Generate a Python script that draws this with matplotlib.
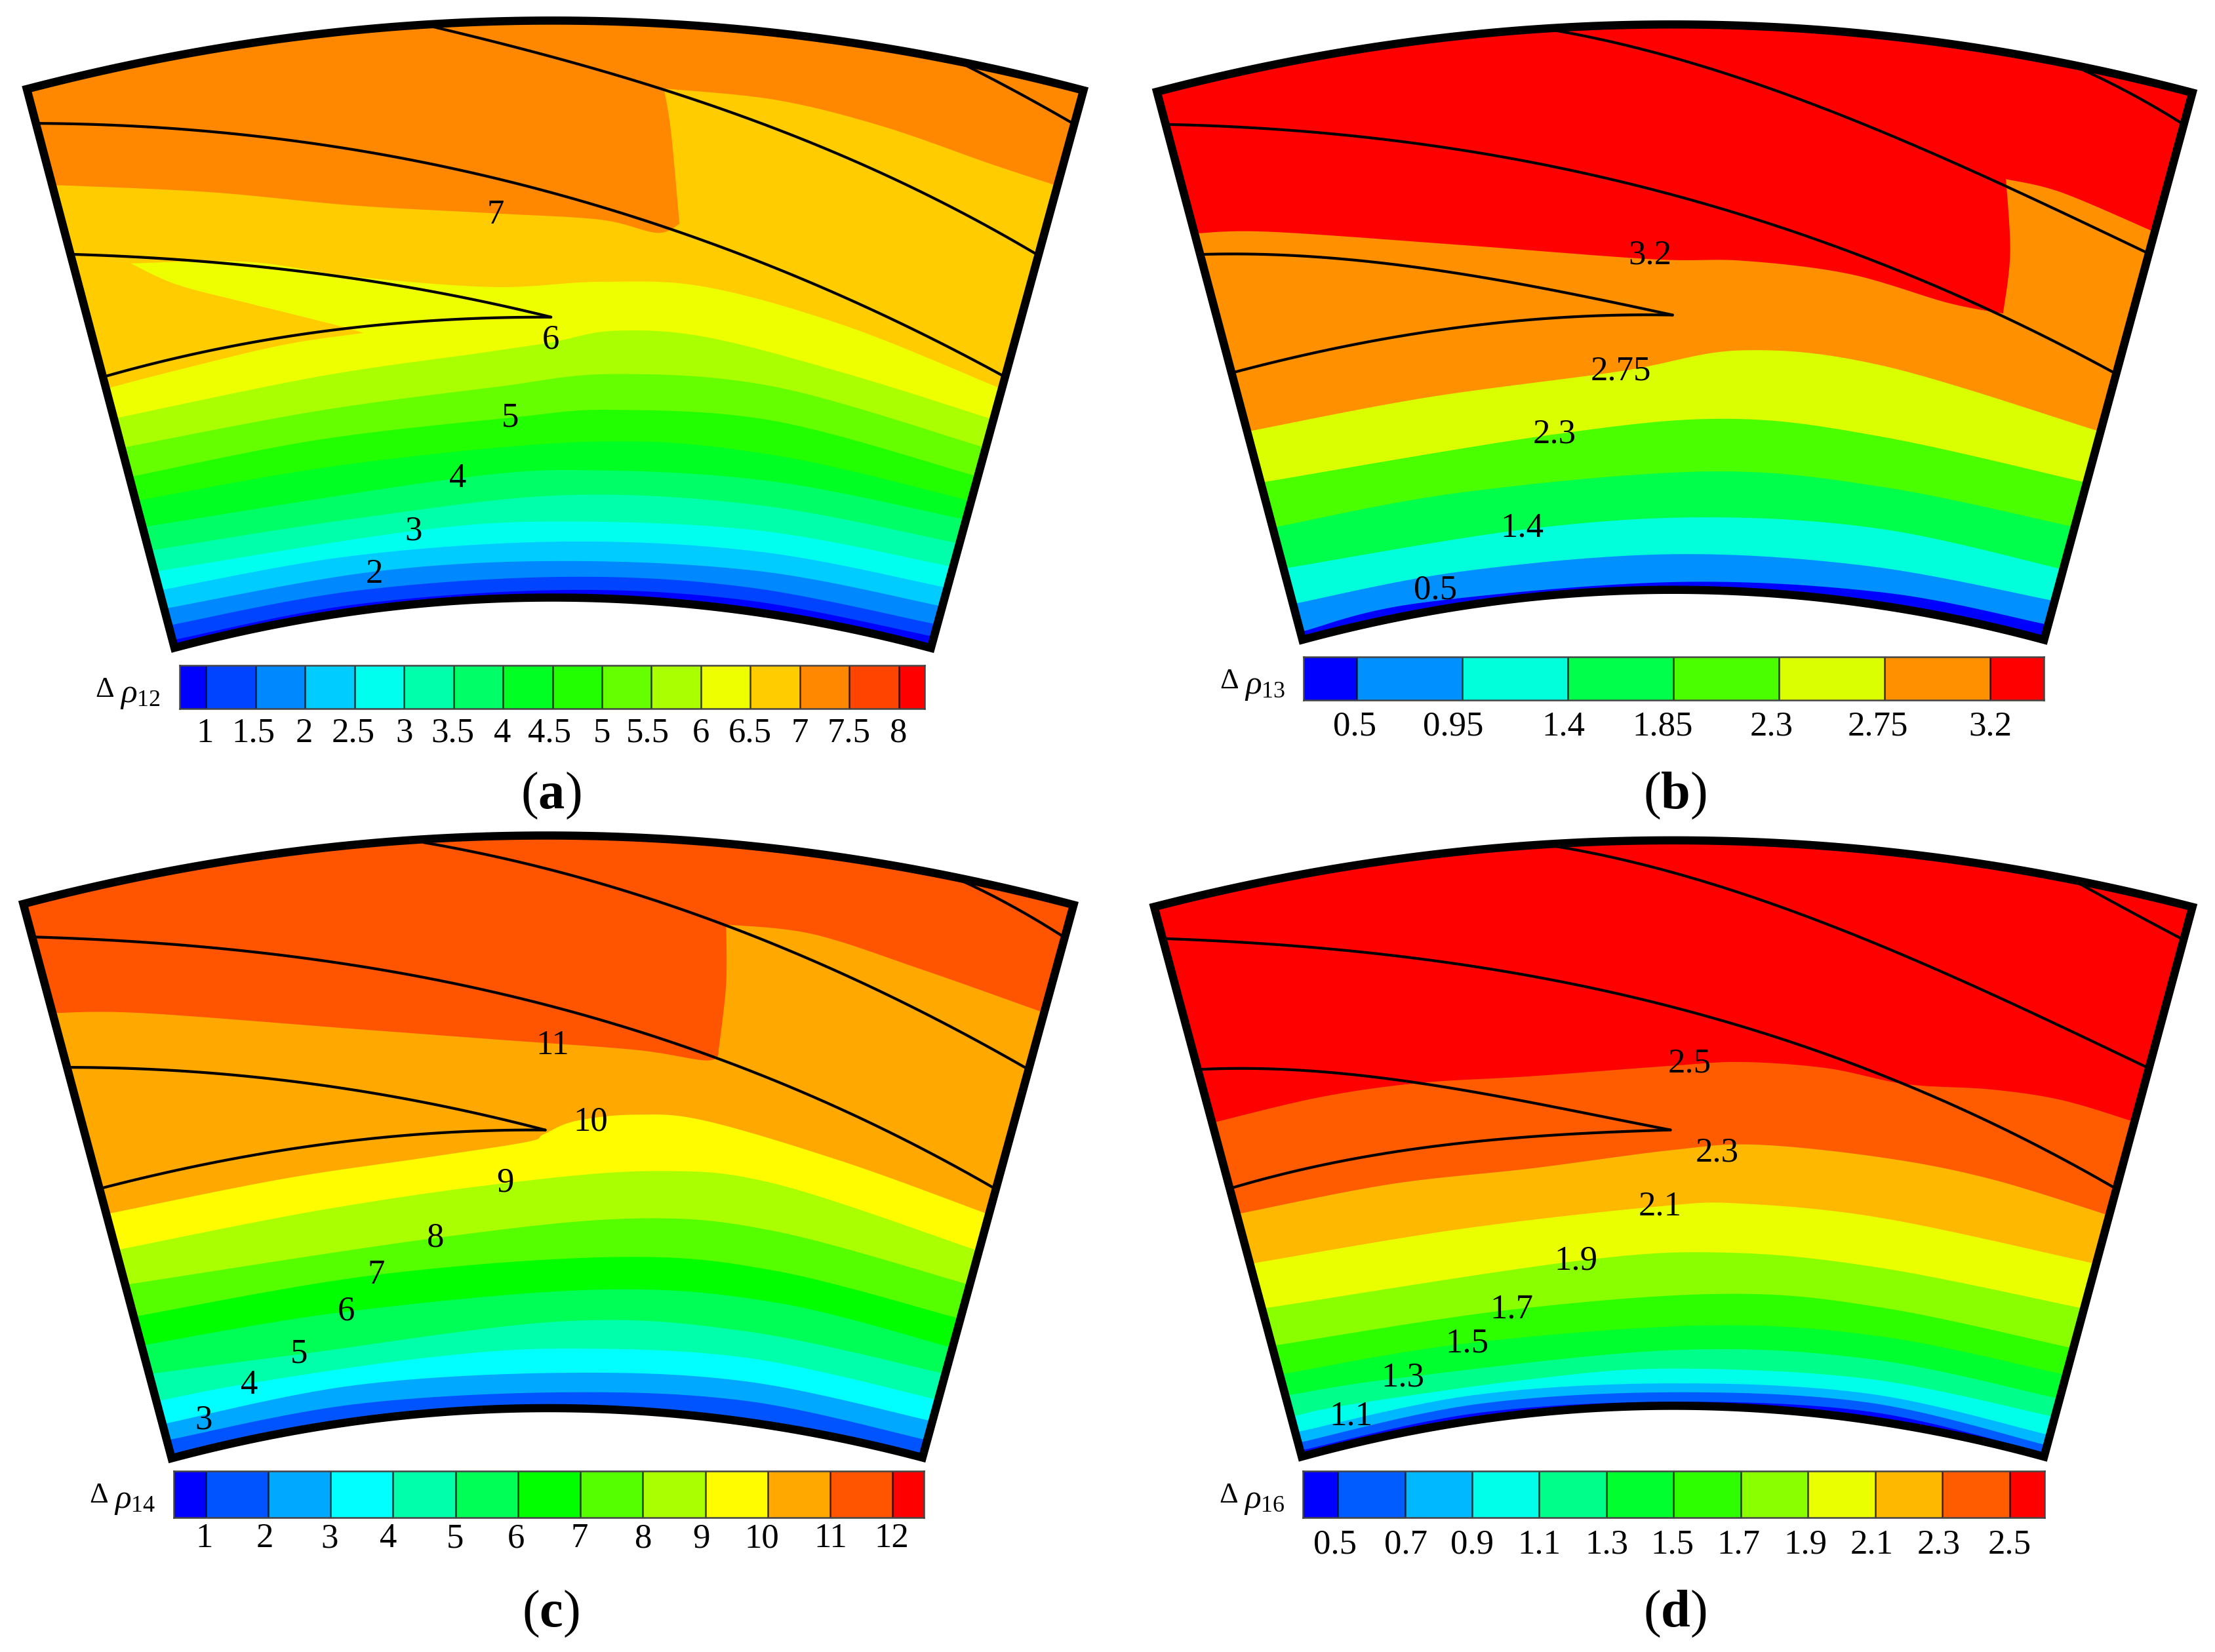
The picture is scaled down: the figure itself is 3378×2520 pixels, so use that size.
import numpy as np
import matplotlib
matplotlib.use('Agg')
import matplotlib.pyplot as plt
from matplotlib.colors import LinearSegmentedColormap
from matplotlib.patches import Polygon

plt.rcParams['font.family'] = ['Liberation Serif', 'DejaVu Serif']
plt.rcParams['mathtext.fontset'] = 'custom'
plt.rcParams['mathtext.rm'] = 'Liberation Serif'
plt.rcParams['mathtext.it'] = 'Liberation Serif:italic'
plt.rcParams['mathtext.bf'] = 'Liberation Serif:bold'

# curves below are read off the picture, one quadrant = 1568 x 1568 units
# a point written twice in a contour is a sharp corner
a_outer = [(38, 172), (300, 88), (610, 48), (780, 40), (1000, 50), (1364, 120), (1534, 170)]
a_inner = [(247, 1230), (500, 1160), (780, 1135), (1060, 1160), (1318, 1230)]
a_blades = [
    [(610, 50), (760, 100), (940, 170), (1180, 290), (1330, 380), (1466, 482)],
    [(55, 234), (200, 240), (400, 265), (600, 310), (780, 365), (960, 435), (1180, 560), (1420, 712)],
    [(103, 483), (250, 492), (420, 515), (600, 550), (780, 602)],
    [(150, 714), (300, 665), (450, 630), (600, 610), (780, 602)],
    [(1364, 122), (1440, 175), (1516, 232)],
]
a_contours = [
    [(245, 1215), (500, 1148), (800, 1120), (1060, 1140), (1320, 1208)],
    [(240, 1187), (500, 1122), (800, 1095), (1060, 1115), (1325, 1185)],
    [(235, 1155), (530, 1085), (800, 1065), (1080, 1085), (1330, 1150)],
    [(228, 1120), (500, 1055), (800, 1028), (1080, 1048), (1338, 1115)],
    [(220, 1085), (585, 1008), (800, 990), (1080, 1008), (1345, 1075)],
    [(213, 1045), (500, 985), (800, 940), (1080, 960), (1352, 1030)],
    [(205, 1000), (648, 908), (850, 893), (1100, 915), (1362, 985)],
    [(195, 950), (500, 880), (850, 838), (1100, 865), (1372, 950)],
    [(185, 905), (450, 835), (722, 793), (870, 778), (1100, 800), (1385, 905)],
    [(173, 850), (450, 780), (700, 735), (870, 710), (1100, 735), (1395, 850)],
    [(160, 795), (450, 715), (680, 670), (780, 650), (870, 628), (1000, 640), (1200, 710), (1403, 795)],
    [(150, 738), (250, 703), (400, 655), (515, 632), (515, 632), (470, 615), (350, 575), (250, 540), (185, 500),
     (185, 500), (350, 497), (500, 525), (700, 545), (850, 535), (1000, 545), (1200, 620), (1412, 735)],
    [(70, 352), (110, 353), (300, 365), (500, 390), (700, 405), (850, 417), (930, 442), (962, 425), (962, 425),
     (950, 250), (940, 168), (940, 168), (1100, 190), (1250, 240), (1400, 310), (1495, 352)],
]
a_colors_n = 16
a_first = 0
a_edges = [0.73, 1, 1.5, 2, 2.5, 3, 3.5, 4, 4.5, 5, 5.5, 6, 6.5, 7, 7.5, 8, 8.26]
a_ticks = ['1', '1.5', '2', '2.5', '3', '3.5', '4', '4.5', '5', '5.5', '6', '6.5', '7', '7.5', '8']
a_shift = [-2, -3, -1, -2, 0, -1, -1, -4, 0, -5, 0, -1, 0, -1, -1]
a_labels = [('2', 530, 1090), ('3', 585, 1008), ('4', 648, 908), ('5', 722, 793), ('6', 780, 645), ('7', 702, 408)]

b_outer = [(70, 176), (350, 90), (635, 58), (800, 45), (1000, 55), (1368, 125), (1536, 175)]
b_inner = [(276, 1215), (520, 1145), (800, 1122), (1080, 1145), (1326, 1215)]
b_blades = [
    [(635, 58), (760, 95), (900, 150), (1050, 225), (1250, 340), (1472, 480)],
    [(85, 237), (200, 240), (400, 268), (600, 310), (800, 365), (1000, 455), (1200, 560), (1425, 707)],
    [(133, 483), (300, 488), (450, 510), (620, 548), (800, 598)],
    [(178, 707), (300, 668), (450, 630), (620, 605), (800, 598)],
    [(1368, 125), (1445, 175), (1522, 235)],
]
b_contours = [
    [(278, 1198), (440, 1145), (800, 1105), (1100, 1125), (1328, 1185)],
    [(268, 1145), (500, 1085), (800, 1052), (1080, 1075), (1338, 1140)],
    [(255, 1078), (590, 1005), (850, 982), (1100, 1005), (1350, 1080)],
    [(240, 1000), (500, 935), (850, 895), (1100, 925), (1367, 1000)],
    [(222, 915), (630, 825), (880, 795), (1100, 830), (1382, 915)],
    [(203, 818), (450, 755), (725, 705), (900, 665), (1100, 695), (1402, 818)],
    [(125, 443), (230, 440), (500, 465), (770, 492), (900, 495), (1050, 520), (1190, 575), (1268, 595), (1268, 595),
     (1278, 480), (1272, 340), (1272, 340), (1350, 365), (1478, 438)],
]
b_colors_n = 8
b_first = 0
b_edges = [0.274, 0.5, 0.95, 1.4, 1.85, 2.3, 2.75, 3.2, 3.43]
b_ticks = ['0.5', '0.95', '1.4', '1.85', '2.3', '2.75', '3.2']
b_shift = [-3, -13, -6, -15, -11, -10, 0]
b_labels = [('3.2', 768, 485), ('2.75', 727, 705), ('2.3', 633, 825), ('1.4', 587, 1003), ('0.5', 464, 1120)]

c_outer = [(33, 148), (300, 70), (600, 28), (790, 18), (1000, 28), (1350, 97), (1520, 150)]
c_inner = [(243, 1200), (500, 1130), (780, 1108), (1040, 1125), (1306, 1200)]
c_blades = [
    [(600, 30), (760, 80), (1030, 185), (1250, 320), (1452, 458)],
    [(48, 212), (200, 218), (400, 245), (600, 290), (800, 350), (1000, 430), (1200, 545), (1407, 687)],
    [(98, 458), (250, 465), (420, 485), (600, 525), (772, 577)],
    [(145, 687), (300, 640), (450, 605), (600, 585), (772, 577)],
    [(1350, 97), (1430, 150), (1503, 208)],
]
c_contours = [
    [(240, 1165), (500, 1098), (800, 1075), (1060, 1092), (1310, 1165)],
    [(232, 1135), (500, 1062), (800, 1038), (1060, 1055), (1320, 1130)],
    [(222, 1092), (353, 1058), (600, 1010), (800, 992), (1060, 1010), (1330, 1090)],
    [(213, 1040), (423, 1003), (800, 940), (1060, 960), (1338, 1040)],
    [(205, 985), (490, 922), (850, 880), (1100, 905), (1347, 990)],
    [(195, 930), (533, 852), (880, 818), (1100, 845), (1358, 935)],
    [(182, 870), (617, 782), (900, 745), (1100, 770), (1370, 870)],
    [(165, 805), (450, 730), (715, 678), (930, 655), (1100, 680), (1382, 805)],
    [(157, 735), (400, 670), (600, 630), (745, 600), (770, 585), (815, 560), (900, 548), (1000, 560), (1200, 640),
     (1395, 735)],
    [(75, 355), (200, 355), (500, 385), (700, 405), (900, 425), (1003, 445), (1018, 420), (1018, 420), (1028, 300),
     (1028, 187), (1028, 187), (1150, 205), (1300, 270), (1473, 352)],
]
c_colors_n = 13
c_first = 1
c_edges = [0.49, 1, 2, 3, 4, 5, 6, 7, 8, 9, 10, 11, 12, 12.5]
c_ticks = ['1', '2', '3', '4', '5', '6', '7', '8', '9', '10', '11', '12']
c_shift = [-2, -5, -1, -7, -1, -3, -1, 1, -6, -8, 1, -1]
c_labels = [('11', 782, 417), ('10', 836, 562), ('9', 715, 678), ('8', 617, 782), ('7', 533, 852), ('6', 490, 922),
            ('5', 423, 1003), ('4', 353, 1062), ('3', 288, 1128)]

d_outer = [(66, 153), (350, 75), (630, 37), (800, 25), (1000, 35), (1370, 105), (1536, 153)]
d_inner = [(275, 1198), (520, 1125), (800, 1105), (1080, 1125), (1326, 1198)]
d_blades = [
    [(630, 37), (760, 75), (900, 130), (1050, 200), (1250, 320), (1472, 458)],
    [(82, 215), (200, 220), (400, 245), (600, 285), (800, 345), (1000, 425), (1200, 530), (1425, 687)],
    [(132, 462), (300, 466), (450, 490), (620, 530), (797, 577)],
    [(176, 687), (300, 645), (450, 610), (620, 588), (797, 577)],
    [(1370, 105), (1445, 160), (1522, 215)],
]
d_contours = [
    [(275, 1185), (520, 1115), (800, 1093), (1080, 1112), (1326, 1190)],
    [(273, 1170), (520, 1098), (800, 1075), (1080, 1095), (1328, 1175)],
    [(270, 1150), (520, 1080), (800, 1058), (1080, 1078), (1330, 1155)],
    [(265, 1120), (345, 1098), (600, 1050), (800, 1030), (1080, 1050), (1335, 1120)],
    [(258, 1080), (418, 1047), (800, 995), (1080, 1012), (1340, 1085)],
    [(250, 1040), (509, 982), (850, 948), (1100, 970), (1350, 1040)],
    [(242, 985), (572, 918), (880, 888), (1100, 915), (1362, 990)],
    [(225, 915), (663, 826), (880, 810), (1100, 840), (1378, 915)],
    [(207, 830), (500, 765), (782, 722), (900, 717), (1100, 745), (1395, 830)],
    [(190, 735), (400, 680), (600, 650), (800, 615), (920, 605), (1100, 630), (1250, 670), (1415, 738)],
    [(150, 563), (300, 515), (440, 488), (600, 475), (800, 455), (900, 448), (1020, 460), (1130, 490), (1250, 500),
     (1350, 520), (1450, 560)],
]
d_colors_n = 12
d_first = 0
d_edges = [0.397, 0.5, 0.7, 0.9, 1.1, 1.3, 1.5, 1.7, 1.9, 2.1, 2.3, 2.5, 2.605]
d_ticks = ['0.5', '0.7', '0.9', '1.1', '1.3', '1.5', '1.7', '1.9', '2.1', '2.3', '2.5']
d_shift = [-4, 1, 0, 0, 0, -2, -3, -4, -5, -5, 0]
d_labels = [('2.5', 824, 451), ('2.3', 863, 620), ('2.1', 782, 722), ('1.9', 663, 826), ('1.7', 572, 918),
            ('1.5', 509, 982), ('1.3', 418, 1047), ('1.1', 345, 1120)]

rainbow = LinearSegmentedColormap.from_list('rb', ['#0000ff', '#00ffff', '#00ff00', '#ffff00', '#ff0000'])


def spline(p, n=16):
    p = np.vstack([p[0], p, p[-1]])
    s = np.linspace(0, 1, n, endpoint=False)[:, None]
    out = []
    for i in range(1, len(p) - 2):
        p0, p1, p2, p3 = p[i - 1:i + 3]
        out.append(0.5 * (2 * p1 + (p2 - p0) * s + (2 * p0 - 5 * p1 + 4 * p2 - p3) * s ** 2
                          + (3 * p1 - p0 - 3 * p2 + p3) * s ** 3))
    out.append(p[-1:])
    return np.vstack(out)


def smooth(pts):
    # cut at repeated points so a corner stays sharp
    parts = [[pts[0]]]
    for q in pts[1:]:
        if q == parts[-1][-1]:
            parts.append([q])
        else:
            parts[-1].append(q)
    return np.vstack([spline(np.array(part, float)) for part in parts])


def fit(pts, deg=3):
    p = np.array(pts, float)
    xs = np.linspace(p[0, 0], p[-1, 0], 120)
    return np.column_stack([xs, np.polyval(np.polyfit(p[:, 0], p[:, 1], deg), xs)])


def draw_panel(ax, outer, inner, blades, contours, n_col, first, edges, ticks, shift, labels, bar, sym, sub, letter):
    colors = rainbow(np.linspace(0, 1, n_col))
    top = fit(outer, 2)
    bot = fit(inner, 2)
    sector = np.vstack([top, bot[::-1]])
    ax.add_patch(Polygon(sector, closed=True, fc=colors[first + len(contours)], ec='none', zorder=1))
    clip = Polygon(sector, closed=True, transform=ax.transData)
    # paint from the top contour down, each fill reaches below the sector
    for i in range(len(contours) - 1, -1, -1):
        c = smooth(contours[i])
        low = 1500
        poly = np.vstack([[c[0, 0] - 150, c[0, 1]], c, [c[-1, 0] + 150, c[-1, 1]], [c[-1, 0] + 150, low],
                          [c[0, 0] - 150, low]])
        p = ax.fill(poly[:, 0], poly[:, 1], color=colors[first + i], lw=0, zorder=2)[0]
        p.set_clip_path(clip)
    for b in blades:
        s = fit(b, 3) if len(b) > 3 else fit(b, 2)
        ax.plot(s[:, 0], s[:, 1], color='black', lw=3, zorder=3, solid_capstyle='round')
    ax.add_patch(Polygon(sector, closed=True, fc='none', ec='black', lw=9, joinstyle='miter', zorder=4))
    for t, x, y in labels:
        ax.text(x, y, t, fontsize=38, ha='center', va='center', zorder=5)

    x0, x1, y0, y1, ty = bar
    cax = ax.inset_axes([x0 / 1568, 1 - y1 / 1568, (x1 - x0) / 1568, (y1 - y0) / 1568])
    cax.pcolormesh(edges, [0, 1], [np.arange(n_col)], cmap=LinearSegmentedColormap.from_list('c', colors, N=n_col),
                   edgecolors='none')
    cax.vlines(edges[1:-1], 0, 1, color='black', lw=1.8, alpha=0.75)
    cax.set_xlim(edges[0], edges[-1])
    cax.set_ylim(0, 1)
    cax.set_yticks([])
    cax.set_xticks([])
    for sp in cax.spines.values():
        sp.set_color('#444444')
        sp.set_linewidth(1.8)
    for t, e, dx in zip(ticks, edges[1:-1], shift):
        xt = x0 + (e - edges[0]) / (edges[-1] - edges[0]) * (x1 - x0) + dx
        ax.text(xt, ty, t, fontsize=38, ha='center', va='center')
    ax.text(x0 - 106, y0 + 46, '\u0394', fontsize=32, ha='center', va='center')
    ax.text(x0 - 55, y0 + 57, r'$\rho_{%s}$' % sub, fontsize=37, ha='center', va='center')
    ax.text(letter[0], letter[1], r'$\mathrm{(}\mathbf{%s}\mathrm{)}$' % sym, fontsize=58, ha='center', va='center')


fig = plt.figure(figsize=(33.78, 25.2), dpi=100)
axes = [fig.add_axes(r) for r in ([0, 0.5, 0.5, 0.5], [0.5, 0.5, 0.5, 0.5], [0, 0, 0.5, 0.5], [0.5, 0, 0.5, 0.5])]
for ax in axes:
    ax.set_xlim(0, 1568)
    ax.set_ylim(1568, 0)
    ax.axis('off')

draw_panel(axes[0], a_outer, a_inner, a_blades, a_contours, a_colors_n, a_first, a_edges, a_ticks, a_shift, a_labels,
           (254, 1309, 1263, 1345, 1392), 'a', '12', (780, 1510))
draw_panel(axes[1], b_outer, b_inner, b_blades, b_contours, b_colors_n, b_first, b_edges, b_ticks, b_shift, b_labels,
           (278, 1326, 1247, 1329, 1380), 'b', '13', (803, 1510))
draw_panel(axes[2], c_outer, c_inner, c_blades, c_contours, c_colors_n, c_first, c_edges, c_ticks, c_shift, c_labels,
           (246, 1308, 1224, 1313, 1353), 'c', '14', (780, 1495))
draw_panel(axes[3], d_outer, d_inner, d_blades, d_contours, d_colors_n, d_first, d_edges, d_ticks, d_shift, d_labels,
           (277, 1327, 1224, 1313, 1365), 'd', '16', (803, 1495))

fig.savefig('out.png', dpi=100)
